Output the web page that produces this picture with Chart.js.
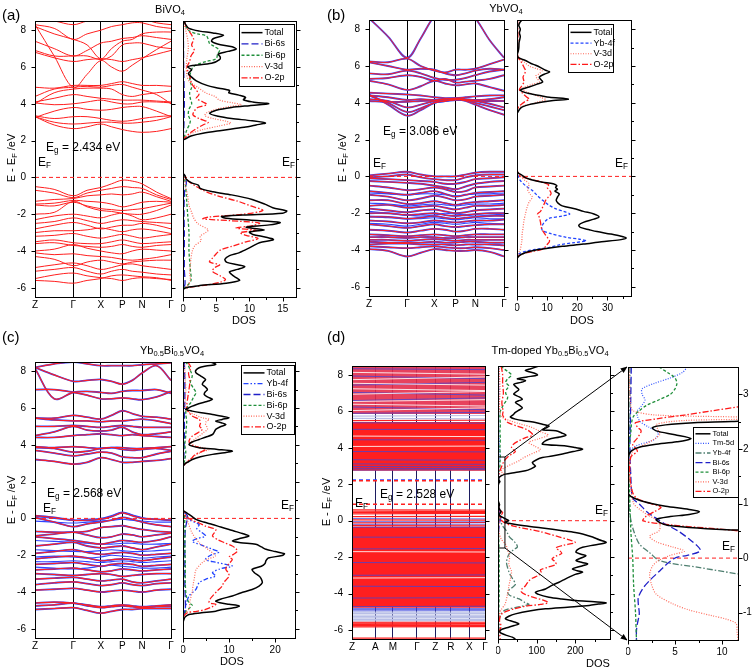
<!DOCTYPE html>
<html>
<head>
<meta charset="utf-8">
<script src="https://cdn.jsdelivr.net/npm/chart.js@4.4.0/dist/chart.umd.min.js"></script>
<style>
body { margin: 0; background: #fff; width: 756px; height: 668px; position: relative; overflow: hidden; font-family: "Liberation Sans", Arial, sans-serif; }
.t { position: absolute; white-space: nowrap; color: #000; line-height: 1; }
.t sub { font-size: 68%; vertical-align: -0.3em; }
canvas { position: absolute; }
svg { position: absolute; left: 0; top: 0; }
</style>
</head>
<body>
<script>
// ---- k-path and energy ticks ----
const kGrid = [0, 0.141, 0.282, 0.383, 0.484, 0.563, 0.642, 0.715, 0.787, 0.894, 1];
const kTicks = [0, 0.282, 0.484, 0.642, 0.787, 1];
const kNames = ["Z", "Γ", "X", "P", "N", "Γ"];
const kTicksD = [0, 0.175, 0.308, 0.488, 0.627, 0.743, 0.882, 1];
const kNamesD = ["Z", "A", "M", "Γ", "Z", "R", "X", "Γ"];
const eMajor = [-6, -4, -2, 0, 2, 4, 6, 8];
const eMinor = [-5, -3, -1, 1, 3, 5, 7];

// ---- (a) BiVO4 bands, values at kGrid ----
const aBands = [
  [3.3, 2.85, 2.65, 2.75, 2.9, 2.75, 2.6, 2.5, 2.45, 2.5, 2.65],
  [3.3, 3.0, 2.9, 2.95, 3.0, 3.0, 2.95, 2.95, 3.0, 3.1, 3.3],
  [3.35, 3.2, 3.3, 3.3, 3.2, 3.1, 3.05, 3.1, 3.2, 3.3, 3.35],
  [3.25, 3.6, 3.8, 3.7, 3.65, 3.7, 3.8, 3.85, 3.85, 3.6, 3.3],
  [4.05, 3.95, 4.0, 4.1, 4.2, 4.1, 4.0, 4.0, 4.1, 4.1, 4.05],
  [4.1, 4.3, 4.5, 4.4, 4.3, 4.25, 4.2, 4.2, 4.2, 4.15, 4.1],
  [4.0, 4.6, 4.8, 4.85, 4.85, 4.8, 4.5, 4.4, 4.5, 4.6, 4.7],
  [4.4, 4.8, 4.9, 4.95, 4.9, 5.0, 5.05, 4.9, 4.75, 4.5, 4.0],
  [4.9, 4.85, 5.0, 5.0, 5.0, 5.1, 5.2, 5.1, 5.0, 5.0, 4.95],
  [8.3, 6.6, 4.88, 5.6, 6.35, 6.0, 5.77, 6.1, 6.45, 6.95, 7.4],
  [6.8, 6.5, 6.3, 6.4, 6.45, 6.4, 6.3, 6.4, 6.5, 6.7, 6.9],
  [6.9, 6.6, 6.6, 6.6, 6.4, 6.6, 7.2, 7.3, 7.3, 7.1, 7.0],
  [7.4, 7.0, 6.6, 6.9, 7.3, 7.4, 7.55, 7.6, 7.7, 7.6, 7.5],
  [8.2, 7.8, 7.5, 7.2, 6.45, 7.0, 7.4, 7.5, 7.8, 7.9, 7.9],
  [8.3, 8.1, 7.5, 7.8, 8.0, 8.2, 8.3, 8.4, 8.4, 8.2, 8.1],
  [8.6, 8.5, 8.3, 8.5, 8.6, 8.6, 8.6, 8.6, 8.6, 8.4, 8.3],
  [-0.5, -0.65, -1.0, -0.7, -0.55, -0.35, -0.15, -0.2, -0.35, -0.8, -1.15],
  [-0.7, -0.85, -1.1, -0.85, -0.7, -0.6, -0.5, -0.55, -0.6, -0.95, -1.2],
  [-1.3, -1.2, -1.15, -1.0, -0.95, -0.9, -0.95, -0.9, -0.8, -1.05, -1.3],
  [-1.45, -1.4, -1.25, -1.3, -1.35, -1.45, -1.6, -1.5, -1.35, -1.3, -1.35],
  [-1.5, -1.55, -1.35, -1.55, -1.7, -1.75, -1.8, -1.75, -1.7, -1.55, -1.4],
  [-2.0, -1.9, -1.3, -1.6, -1.8, -1.85, -1.95, -2.0, -2.0, -1.8, -1.5],
  [-2.3, -2.1, -2.0, -2.1, -2.2, -2.05, -1.95, -2.1, -2.3, -2.2, -2.0],
  [-2.5, -2.4, -2.2, -2.35, -2.5, -2.4, -2.3, -2.35, -2.4, -2.45, -2.5],
  [-2.8, -2.6, -2.45, -2.6, -2.8, -2.7, -2.6, -2.6, -2.5, -2.6, -2.8],
  [-3.0, -2.9, -2.9, -2.85, -2.75, -2.85, -2.95, -2.85, -2.8, -2.9, -3.05],
  [-3.2, -3.15, -3.05, -3.2, -3.3, -3.2, -3.1, -3.2, -3.3, -3.2, -3.1],
  [-3.5, -3.4, -3.55, -3.6, -3.6, -3.5, -3.4, -3.5, -3.6, -3.55, -3.5],
  [-3.6, -3.55, -3.7, -3.75, -3.8, -3.75, -3.65, -3.75, -3.8, -3.7, -3.65],
  [-4.0, -3.9, -3.65, -3.85, -4.0, -4.1, -4.15, -4.0, -3.9, -3.95, -4.0],
  [-4.1, -4.2, -4.15, -4.25, -4.3, -4.35, -4.45, -4.5, -4.45, -4.35, -4.2],
  [-4.3, -4.45, -4.8, -4.6, -4.5, -4.6, -4.7, -4.6, -4.55, -4.5, -4.5],
  [-4.9, -4.75, -4.65, -4.8, -5.0, -4.9, -4.75, -4.7, -4.8, -4.9, -5.0],
  [-5.1, -5.0, -4.9, -5.1, -5.25, -5.1, -5.0, -5.1, -5.15, -5.25, -5.3],
  [-5.5, -5.3, -5.2, -5.35, -5.45, -5.5, -5.6, -5.5, -5.45, -5.5, -5.55],
  [-5.6, -5.65, -5.75, -5.6, -5.5, -5.35, -5.3, -5.35, -5.4, -5.45, -5.6]
];

// ---- (b) YbVO4 bands ----
const bBands = [
  [8.6, 7.6, 6.45, 7.5, 8.7, 9, 9, 9, 8.6, 7.4, 6.45],
  [6.25, 6.2, 6.4, 6.0, 5.75, 5.65, 5.8, 5.8, 5.85, 6.1, 6.35],
  [6.2, 6.0, 5.8, 5.85, 5.8, 5.6, 5.5, 5.6, 5.75, 5.85, 5.8],
  [5.6, 5.55, 5.75, 5.6, 5.35, 5.25, 5.25, 5.35, 5.5, 5.7, 5.8],
  [5.3, 5.35, 5.5, 5.4, 5.2, 5.3, 5.1, 5.15, 5.2, 5.3, 5.5],
  [5.2, 5.0, 4.7, 4.9, 5.2, 5.05, 4.95, 5.0, 5.05, 4.85, 4.65],
  [4.55, 4.5, 4.45, 4.4, 4.3, 4.25, 4.25, 4.3, 4.35, 4.4, 4.4],
  [4.4, 4.3, 4.15, 4.2, 4.15, 4.2, 4.25, 4.2, 4.15, 4.2, 4.3],
  [4.1, 4.05, 4.05, 4.1, 4.1, 4.1, 4.15, 4.15, 4.1, 4.1, 4.1],
  [4.2, 4.1, 3.75, 3.9, 4.1, 4.2, 4.2, 4.15, 4.1, 3.95, 3.75],
  [4.4, 4.0, 3.5, 3.7, 4.0, 4.1, 4.2, 4.15, 4.0, 3.8, 3.6],
  [4.45, 3.9, 3.3, 3.6, 4.0, 4.1, 4.2, 4.1, 3.9, 3.6, 3.35],
  [0.05, 0.15, 0.25, 0.1, 0.0, 0.0, 0.0, 0.1, 0.2, 0.25, 0.25],
  [-0.05, 0.0, 0.1, -0.05, -0.15, -0.2, -0.2, -0.05, 0.05, 0.1, 0.1],
  [-0.1, -0.15, -0.2, -0.25, -0.3, -0.4, -0.4, -0.3, -0.15, -0.1, -0.05],
  [-0.25, -0.3, -0.35, -0.4, -0.5, -0.6, -0.7, -0.55, -0.4, -0.3, -0.25],
  [-0.5, -0.6, -0.75, -0.7, -0.6, -0.7, -0.85, -0.8, -0.6, -0.55, -0.5],
  [-0.8, -0.9, -1.0, -0.9, -0.8, -0.95, -1.1, -1.0, -0.9, -0.85, -0.8],
  [-1.0, -1.1, -1.3, -1.2, -1.05, -1.15, -1.3, -1.25, -1.1, -1.05, -1.0],
  [-1.3, -1.3, -1.5, -1.45, -1.35, -1.45, -1.55, -1.45, -1.4, -1.35, -1.3],
  [-1.6, -1.55, -1.7, -1.65, -1.6, -1.7, -1.8, -1.7, -1.6, -1.6, -1.55],
  [-1.75, -1.85, -1.95, -1.85, -1.8, -1.9, -2.0, -1.95, -1.85, -1.8, -1.75],
  [-2.0, -2.0, -2.1, -2.05, -2.0, -2.1, -2.15, -2.1, -2.05, -2.0, -2.0],
  [-2.2, -2.2, -2.3, -2.25, -2.15, -2.25, -2.3, -2.25, -2.2, -2.15, -2.15],
  [-2.4, -2.45, -2.55, -2.5, -2.4, -2.45, -2.5, -2.45, -2.4, -2.4, -2.35],
  [-2.6, -2.7, -2.8, -2.7, -2.6, -2.7, -2.75, -2.7, -2.65, -2.6, -2.6],
  [-2.9, -2.95, -3.05, -2.95, -2.85, -2.9, -3.0, -2.95, -2.85, -2.85, -2.9],
  [-3.15, -3.2, -3.25, -3.2, -3.15, -3.2, -3.25, -3.2, -3.15, -3.15, -3.15],
  [-3.3, -3.3, -3.35, -3.3, -3.3, -3.35, -3.35, -3.3, -3.3, -3.3, -3.3],
  [-3.45, -3.45, -3.5, -3.45, -3.4, -3.45, -3.5, -3.45, -3.45, -3.45, -3.45],
  [-3.55, -3.6, -3.6, -3.6, -3.55, -3.6, -3.6, -3.55, -3.55, -3.6, -3.6],
  [-3.7, -3.65, -3.65, -3.7, -3.7, -3.7, -3.75, -3.7, -3.7, -3.7, -3.75],
  [-3.8, -3.85, -3.9, -3.85, -3.8, -3.85, -3.9, -3.9, -3.85, -3.9, -4.0],
  [-3.95, -4.05, -4.35, -4.15, -3.95, -4.0, -4.05, -4.05, -4.0, -4.1, -4.35]
];
const bBlueOnly = [
  [-0.9, -0.95, -1.0, -0.95, -0.95, -1.0, -1.05, -1.0, -0.95, -0.95, -0.9],
  [-1.45, -1.5, -1.6, -1.55, -1.5, -1.55, -1.6, -1.55, -1.5, -1.5, -1.45],
  [-1.9, -2.0, -2.1, -2.15, -2.1, -2.0, -2.05, -2.1, -2.15, -2.1, -2.05],
  [-2.15, -2.25, -2.3, -2.3, -2.25, -2.3, -2.35, -2.3, -2.25, -2.3, -2.3],
  [-2.55, -2.6, -2.7, -2.6, -2.5, -2.55, -2.6, -2.55, -2.5, -2.55, -2.6]
];

// ---- (c) Yb0.5Bi0.5VO4 bands ----
const cBands = [
  [8.2, 8.4, 8.5, 8.4, 8.3, 8.3, 8.3, 8.3, 8.35, 8.4, 8.45],
  [8.2, 7.8, 7.45, 7.5, 7.55, 7.45, 7.3, 7.5, 7.9, 8.3, 7.5],
  [8.15, 6.5, 6.85, 6.9, 6.85, 6.8, 6.9, 6.95, 6.95, 7.0, 6.8],
  [7.0, 7.0, 6.85, 6.7, 6.5, 6.5, 6.55, 6.5, 6.45, 6.6, 6.9],
  [5.45, 5.45, 5.6, 5.5, 5.4, 5.6, 5.85, 5.7, 5.55, 5.5, 5.4],
  [5.45, 5.35, 5.3, 5.3, 5.25, 5.3, 5.3, 5.35, 5.4, 5.3, 5.15],
  [5.0, 5.0, 5.05, 5.0, 4.95, 5.0, 5.05, 5.0, 4.95, 4.95, 4.95],
  [4.5, 4.7, 5.0, 4.8, 4.75, 4.8, 4.95, 4.7, 4.55, 4.6, 4.7],
  [4.4, 4.4, 4.5, 4.55, 4.6, 4.55, 4.5, 4.55, 4.5, 4.45, 4.4],
  [3.9, 3.85, 3.9, 3.85, 3.8, 3.85, 3.85, 3.8, 3.8, 3.85, 3.9],
  [3.85, 3.8, 3.6, 3.65, 3.8, 3.85, 3.75, 3.7, 3.75, 3.8, 3.7],
  [3.7, 3.55, 3.4, 3.5, 3.6, 3.55, 3.35, 3.3, 3.3, 3.5, 3.65],
  [3.2, 3.1, 2.95, 3.05, 3.3, 3.2, 3.05, 3.05, 3.1, 3.15, 3.25],
  [0.15, 0.05, -0.1, -0.1, -0.05, 0.1, 0.3, 0.15, 0.0, -0.05, -0.1],
  [0.05, -0.2, -0.45, -0.3, -0.2, -0.1, 0.05, -0.05, -0.2, -0.35, -0.45],
  [-0.7, -0.75, -0.75, -0.7, -0.5, -0.45, -0.4, -0.5, -0.6, -0.7, -0.75],
  [-0.95, -0.85, -0.75, -0.9, -1.05, -1.0, -0.85, -0.9, -1.0, -0.9, -0.8],
  [-1.0, -1.1, -1.2, -1.3, -1.4, -1.3, -1.2, -1.25, -1.3, -1.2, -1.0],
  [-1.5, -1.4, -1.3, -1.5, -1.6, -1.55, -1.5, -1.6, -1.7, -1.55, -1.4],
  [-1.9, -1.8, -1.7, -1.85, -1.95, -1.9, -1.85, -1.9, -2.0, -1.95, -1.9],
  [-2.2, -2.1, -2.05, -2.15, -2.3, -2.25, -2.2, -2.25, -2.3, -2.2, -2.1],
  [-2.5, -2.45, -2.4, -2.5, -2.6, -2.5, -2.45, -2.5, -2.6, -2.55, -2.5],
  [-2.8, -2.75, -2.7, -2.8, -2.9, -2.85, -2.75, -2.8, -2.85, -2.8, -2.75],
  [-3.0, -3.05, -3.1, -3.05, -3.0, -3.05, -3.15, -3.1, -3.05, -3.0, -3.0],
  [-3.3, -3.25, -3.2, -3.3, -3.4, -3.35, -3.3, -3.45, -3.5, -3.4, -3.3],
  [-3.6, -3.5, -3.45, -3.55, -3.65, -3.6, -3.5, -3.6, -3.65, -3.55, -3.5],
  [-3.9, -3.85, -3.8, -3.9, -4.0, -3.95, -3.9, -3.95, -4.0, -3.9, -3.85],
  [-4.6, -4.55, -4.6, -4.7, -4.8, -4.75, -4.7, -4.75, -4.8, -4.75, -4.7],
  [-4.75, -4.7, -4.6, -4.75, -4.85, -4.8, -4.75, -4.8, -4.85, -4.8, -4.8],
  [-4.95, -4.9, -4.85, -5.0, -5.15, -5.05, -4.95, -4.95, -4.9, -4.9, -4.9]
];
const cBlueOnly = [
  [0.1, 0.0, -0.1, -0.05, 0.0, 0.15, 0.35, 0.2, 0.05, -0.05, -0.1],
  [-0.15, -0.2, -0.25, -0.2, -0.15, -0.1, -0.05, -0.1, -0.15, -0.2, -0.2],
  [-1.2, -1.25, -1.3, -1.35, -1.4, -1.4, -1.35, -1.35, -1.4, -1.4, -1.35],
  [-1.7, -1.75, -1.8, -1.8, -1.75, -1.7, -1.75, -1.8, -1.8, -1.75, -1.7],
  [-2.1, -2.05, -2.1, -2.15, -2.1, -2.0, -2.05, -2.1, -2.15, -2.1, -2.05],
  [-2.35, -2.35, -2.3, -2.35, -2.4, -2.35, -2.3, -2.35, -2.4, -2.35, -2.3],
  [-2.65, -2.7, -2.75, -2.7, -2.6, -2.55, -2.6, -2.65, -2.7, -2.7, -2.65]
];

// ---- (d) Tm-doped supercell: energy windows and single levels [E at Z, E at Γ] ----
const dDense = [[2.75, 5.42], [-4.78, -0.32]];
const dUpper = [5.86, 8.5];
const dRedLines = [[0.6, 0.58], [0.52, 0.5], [0.45, 0.46], [0.38, 0.4], [0.22, 0.24], [0.05, 0.03], [-0.12, -0.1], [-0.26, -0.25],
  [5.5, 5.52], [-5.58, -5.58], [-5.63, -5.64], [-5.7, -5.69], [-5.76, -5.77], [-5.83, -5.82], [-6.45, -6.45]];
const dBlueLines = [[0.12, 0.1], [-0.05, -0.06], [-0.2, -0.19], [-0.36, -0.35], [-0.9, -0.92], [-1.55, -1.53], [-2.3, -2.32],
  [-3.0, -2.98], [-3.6, -3.62], [-4.25, -4.23], [-4.72, -4.7], [-4.82, -4.83], [-4.88, -4.88], [-4.95, -4.94],
  [2.78, 2.8], [2.88, 2.86], [2.98, 2.96], [3.12, 3.1], [3.35, 3.32], [3.8, 3.78], [4.45, 4.42], [5.02, 5.0], [5.38, 5.36],
  [5.9, 5.95], [6.25, 6.1], [6.6, 6.75], [7.05, 6.9], [7.45, 7.6], [7.95, 7.8], [8.35, 8.3]];
const dPaleLines = [[-5.02, -5.02], [-5.1, -5.1], [-5.18, -5.19], [-5.26, -5.26], [-5.34, -5.33], [-5.42, -5.42], [-5.5, -5.49], [5.62, 5.6], [5.75, 5.78]];
const dWhiteLines = [[6.05, 6.2], [6.4, 6.3], [6.55, 6.65], [6.95, 7.1], [7.25, 7.15], [7.55, 7.45], [7.75, 7.9], [8.15, 8.05],
  [4.08, 4.1], [4.65, 4.62], [-1.7, -1.72], [-3.15, -3.13]];
const dFermiBlue = [2.24];
const dFermiRed = [2.19, 0.9];

// ---- DOS curves, [E (eV), DOS] ----
const aTotal = [[8.5,0.2],[8.3,0.4],[8.1,0.9],[7.95,2.5],[7.85,4.5],[7.72,6.1],[7.55,4.6],[7.4,4.3],[7.25,5.2],[7.1,7.4],[6.98,8.0],[6.85,6.8],[6.7,5.3],[6.55,5.6],[6.4,5.5],[6.2,4.3],[6.08,1.4],[6.0,0.7],[5.85,1.3],[5.65,0.8],[5.45,1.3],[5.25,2.0],[5.0,3.6],[4.85,5.4],[4.72,7.0],[4.6,6.9],[4.47,8.4],[4.35,9.4],[4.22,9.1],[4.1,10.5],[4.0,12.9],[3.9,10.0],[3.8,7.3],[3.65,5.0],[3.48,4.0],[3.32,5.3],[3.2,7.3],[3.08,10.4],[2.96,12.4],[2.85,11.0],[2.72,9.2],[2.55,5.8],[2.4,3.0],[2.25,1.2],[2.1,0.4],[2.0,0],[0.25,0],[0.1,0.3],[-0.1,0.5],[-0.3,1.3],[-0.42,2.3],[-0.6,2.6],[-0.78,4.5],[-0.95,7.3],[-1.2,10.4],[-1.45,12.3],[-1.65,13.5],[-1.82,15.6],[-1.95,15.0],[-2.05,9.0],[-2.13,5.8],[-2.22,6.5],[-2.32,10.0],[-2.45,14.6],[-2.58,13.0],[-2.7,9.5],[-2.85,12.2],[-2.97,10.0],[-3.1,10.5],[-3.25,12.5],[-3.38,13.6],[-3.55,11.5],[-3.75,10.4],[-3.95,9.3],[-4.1,8.4],[-4.25,7.0],[-4.45,6.3],[-4.62,6.6],[-4.75,8.2],[-4.85,9.3],[-5.0,8.2],[-5.13,7.0],[-5.3,7.4],[-5.45,8.0],[-5.6,8.5],[-5.75,6.5],[-5.88,2.5],[-5.98,0.6],[-6.1,0],[-6.5,0]];
const aBi6s = [[8.5,0.05],[6,0.1],[4,0.2],[2.5,0.1],[2.05,0],[0.2,0],[0.05,0.3],[-0.3,0.5],[-0.6,0.3],[-1,0.2],[-2,0.15],[-3,0.2],[-4,0.2],[-5,0.2],[-5.8,0.3],[-6.1,0],[-6.5,0]];
const aBi6p = [[8.5,0.1],[8.2,0.4],[7.95,1.0],[7.8,2.2],[7.7,3.5],[7.5,3.8],[7.27,4.0],[7.1,4.8],[6.9,5.5],[6.7,5.2],[6.45,5.0],[6.3,3.5],[6.15,2.2],[6.0,1.5],[5.75,1.2],[5.5,1.0],[5.2,1.1],[4.9,1.3],[4.6,1.0],[4.3,1.1],[4.0,1.3],[3.7,0.9],[3.4,0.8],[3.1,1.1],[2.9,1.0],[2.6,0.6],[2.3,0.3],[2.05,0],[0.2,0],[0,0.2],[-0.5,0.4],[-1.0,0.5],[-2.0,0.7],[-3.0,0.9],[-4.0,0.9],[-5.0,1.1],[-5.6,1.2],[-5.9,0.6],[-6.1,0],[-6.5,0]];
const aV3d = [[8.5,0.1],[8.0,0.4],[7.5,0.7],[7.0,0.8],[6.5,0.6],[6.0,0.5],[5.5,0.6],[5.2,1.0],[4.9,2.2],[4.6,3.4],[4.4,4.8],[4.2,5.5],[4.05,7.5],[3.95,8.8],[3.85,7.0],[3.7,5.0],[3.5,3.5],[3.35,3.3],[3.2,4.5],[3.05,6.5],[2.95,7.2],[2.8,5.5],[2.6,3.0],[2.4,1.3],[2.2,0.4],[2.05,0],[0.2,0],[0,0.2],[-0.5,0.4],[-1.0,0.7],[-1.5,0.9],[-1.9,1.3],[-2.2,1.6],[-2.5,2.2],[-2.85,3.8],[-3.0,3.4],[-3.2,2.6],[-3.45,2.7],[-3.7,1.8],[-4.0,1.4],[-4.4,1.2],[-4.8,1.1],[-5.2,1.0],[-5.6,1.1],[-5.9,0.6],[-6.1,0],[-6.5,0]];
const aO2p = [[8.5,0.2],[8.1,0.6],[7.8,1.2],[7.5,1.6],[7.2,1.3],[6.9,1.7],[6.6,1.2],[6.3,1.0],[6.0,0.6],[5.7,0.8],[5.4,1.1],[5.1,1.3],[4.8,1.9],[4.5,2.4],[4.3,2.0],[4.1,3.0],[3.95,3.6],[3.8,2.2],[3.6,1.7],[3.4,1.5],[3.2,2.4],[3.0,3.8],[2.85,3.0],[2.65,2.0],[2.4,1.0],[2.2,0.4],[2.05,0],[0.25,0],[0.05,0.3],[-0.2,0.8],[-0.45,1.8],[-0.7,3.0],[-1.0,5.2],[-1.3,8.3],[-1.55,10.2],[-1.8,12.0],[-2.0,9.0],[-2.15,4.0],[-2.25,3.0],[-2.35,7.0],[-2.48,11.5],[-2.62,10.5],[-2.75,8.0],[-2.88,11.0],[-3.0,8.6],[-3.15,9.5],[-3.32,11.3],[-3.5,9.5],[-3.75,7.3],[-3.95,5.6],[-4.15,5.0],[-4.4,4.4],[-4.6,4.0],[-4.75,5.5],[-4.9,4.8],[-5.1,4.4],[-5.35,5.6],[-5.55,6.4],[-5.7,5.6],[-5.85,3.5],[-5.98,0.8],[-6.1,0],[-6.5,0]];

const bTotal = [[8.5,1.7],[8.35,0.9],[8.2,0.6],[8.0,1.1],[7.8,0.8],[7.6,1.1],[7.3,0.7],[7.0,0.6],[6.8,0.4],[6.6,0.1],[6.45,0.5],[6.3,2.8],[6.15,4.5],[6.04,6.2],[5.9,8.0],[5.77,9.5],[5.67,10.8],[5.55,9.0],[5.4,7.4],[5.25,8.0],[5.13,8.5],[5.0,6.5],[4.86,4.0],[4.75,1.8],[4.68,1.1],[4.58,2.3],[4.5,4.0],[4.38,8.0],[4.3,10.8],[4.2,17.0],[4.12,12.0],[4.04,8.5],[3.9,4.0],[3.78,1.8],[3.68,1.0],[3.5,0.3],[3.4,0],[0.35,0],[0.2,0.3],[0.08,1.5],[-0.05,2.6],[-0.14,4.0],[-0.25,6.5],[-0.32,8.5],[-0.4,12.0],[-0.5,13.2],[-0.6,12.8],[-0.7,13.4],[-0.8,12.6],[-0.95,14.0],[-1.1,13.5],[-1.3,13.0],[-1.45,13.6],[-1.6,15.0],[-1.77,19.5],[-1.9,22.0],[-2.04,25.5],[-2.2,27.2],[-2.32,25.5],[-2.5,22.0],[-2.65,20.5],[-2.77,21.0],[-2.9,24.0],[-3.0,26.5],[-3.13,31.0],[-3.25,34.5],[-3.35,36.2],[-3.45,34.0],[-3.55,28.0],[-3.68,22.0],[-3.8,15.0],[-3.95,8.5],[-4.08,4.0],[-4.22,1.7],[-4.35,0.5],[-4.5,0],[-6.5,0]];
const bYb4f = [[8.5,0.05],[4,0.05],[0.3,0],[0.1,0.2],[-0.2,1.0],[-0.5,2.8],[-0.77,5.1],[-1.0,6.5],[-1.3,8.5],[-1.55,10.5],[-1.77,13.0],[-1.9,15.5],[-2.04,17.5],[-2.15,15.0],[-2.28,10.5],[-2.4,9.6],[-2.6,8.6],[-2.8,8.2],[-2.95,8.5],[-3.1,11.0],[-3.31,16.4],[-3.42,21.0],[-3.5,23.0],[-3.6,19.0],[-3.72,14.0],[-3.86,10.8],[-3.97,6.0],[-4.08,2.8],[-4.2,0.8],[-4.3,0.1],[-6.5,0]];
const bV3d = [[8.5,0.1],[7.5,0.2],[6.6,0.1],[6.4,0.8],[6.2,2.5],[6.0,4.0],[5.85,6.5],[5.75,8.3],[5.6,7.5],[5.45,6.2],[5.3,6.8],[5.13,7.4],[5.0,5.0],[4.85,2.5],[4.75,1.5],[4.6,3.0],[4.45,5.5],[4.3,7.8],[4.17,9.6],[4.05,7.0],[3.95,5.1],[3.85,2.5],[3.75,1.0],[3.6,0.2],[3.4,0],[0.35,0],[0.1,0.6],[-0.2,2.5],[-0.4,4.0],[-0.7,3.5],[-1.0,4.5],[-1.13,5.1],[-1.4,4.0],[-1.7,3.3],[-2.04,2.8],[-2.4,2.3],[-2.8,2.0],[-3.13,1.7],[-3.5,1.6],[-3.95,1.1],[-4.2,0.4],[-4.4,0],[-6.5,0]];
const bO2p = [[8.5,0.2],[7.5,0.3],[6.6,0.2],[6.4,0.6],[6.3,1.1],[6.1,1.8],[5.9,2.4],[5.77,2.8],[5.6,2.6],[5.4,2.0],[5.13,2.3],[4.9,1.5],[4.7,0.8],[4.5,2.0],[4.3,3.3],[4.2,4.0],[4.05,2.5],[3.95,1.7],[3.8,0.6],[3.6,0.1],[3.4,0],[0.35,0],[0.2,0.4],[0.05,1.0],[-0.1,3.0],[-0.2,5.5],[-0.32,8.5],[-0.45,10.5],[-0.6,10.0],[-0.8,11.0],[-0.95,11.3],[-1.1,10.5],[-1.3,9.5],[-1.5,9.0],[-1.68,8.5],[-1.9,7.8],[-2.05,6.8],[-2.22,7.4],[-2.5,7.8],[-2.75,8.0],[-2.95,8.5],[-3.2,9.5],[-3.5,10.8],[-3.7,10.0],[-3.95,8.5],[-4.1,4.5],[-4.22,1.7],[-4.35,0.3],[-4.5,0],[-6.5,0]];

const cTotal = [[8.5,6.0],[8.37,7.1],[8.28,5.0],[8.19,3.5],[8.05,2.8],[7.92,2.8],[7.75,3.8],[7.55,4.9],[7.4,4.4],[7.28,4.2],[7.15,4.8],[7.0,5.3],[6.87,4.8],[6.74,4.6],[6.6,5.3],[6.47,6.4],[6.38,5.5],[6.29,4.2],[6.18,2.8],[6.1,2.0],[6.0,1.2],[5.92,0.6],[5.83,2.0],[5.74,4.0],[5.65,6.4],[5.55,8.5],[5.47,10.0],[5.38,8.5],[5.29,7.1],[5.2,8.3],[5.1,9.3],[4.97,8.0],[4.84,7.1],[4.7,6.8],[4.56,6.4],[4.42,5.0],[4.29,3.5],[4.15,2.0],[4.02,1.3],[3.93,2.0],[3.84,3.5],[3.75,7.5],[3.66,10.7],[3.57,9.0],[3.48,6.4],[3.35,3.8],[3.2,2.0],[3.08,1.2],[3.0,0.6],[2.9,0.2],[2.84,0],[0.45,0],[0.4,0.2],[0.3,0.8],[0.22,1.3],[0.1,2.0],[-0.05,2.8],[-0.2,4.5],[-0.33,6.4],[-0.47,8.2],[-0.6,10.0],[-0.72,11.5],[-0.82,12.9],[-0.96,14.3],[-1.08,12.5],[-1.23,10.7],[-1.32,12.5],[-1.41,15.8],[-1.55,17.0],[-1.68,18.0],[-1.8,20.0],[-1.92,22.0],[-2.02,21.5],[-2.15,18.5],[-2.3,18.0],[-2.45,17.8],[-2.6,17.0],[-2.77,15.0],[-2.95,15.5],[-3.13,16.5],[-3.3,17.0],[-3.5,17.2],[-3.68,16.5],[-3.86,15.0],[-4.05,12.5],[-4.22,10.7],[-4.36,8.5],[-4.49,7.1],[-4.58,8.0],[-4.67,10.0],[-4.76,12.2],[-4.86,11.0],[-4.95,8.5],[-5.04,7.1],[-5.13,4.0],[-5.22,1.3],[-5.35,0.5],[-5.5,0.2],[-5.7,0],[-6.5,0]];
const cYb4f = [[8.5,0.1],[6,0.1],[3,0.05],[0.45,0],[0.3,0.3],[0.12,0.6],[-0.1,1.5],[-0.33,3.5],[-0.55,3.0],[-0.75,4.0],[-0.96,4.9],[-1.1,3.0],[-1.25,2.0],[-1.45,4.0],[-1.68,6.4],[-1.83,7.8],[-2.0,6.0],[-2.23,4.9],[-2.38,7.0],[-2.5,9.3],[-2.59,10.7],[-2.75,8.0],[-2.95,6.4],[-3.13,7.1],[-3.3,5.0],[-3.5,3.5],[-3.86,2.8],[-4.22,1.3],[-4.76,0.6],[-5.2,0.2],[-5.5,0],[-6.5,0]];
const cBi6s = [[8.5,0.3],[7.5,0.4],[6.5,0.4],[5.5,0.3],[4.5,0.3],[3.5,0.2],[2.9,0.1],[2.84,0],[0.45,0],[0.3,0.5],[0.1,1.0],[-0.2,0.8],[-0.6,0.5],[-1.5,0.4],[-2.5,0.4],[-3.5,0.4],[-4.5,0.5],[-5.0,0.5],[-5.3,0.1],[-5.5,0],[-6.5,0]];
const cBi6p = [[8.5,0.5],[8.37,1.0],[8.1,1.5],[7.74,2.0],[7.4,1.6],[7.1,2.2],[6.83,2.8],[6.6,2.3],[6.29,1.7],[6.0,0.8],[5.7,0.6],[5.3,0.8],[4.9,0.7],[4.5,0.6],[4.0,0.4],[3.6,0.6],[3.2,0.4],[2.9,0.1],[2.84,0],[0.45,0],[0.2,0.3],[-0.5,0.4],[-1.5,0.4],[-2.5,0.5],[-3.5,0.5],[-4.2,0.7],[-4.58,1.3],[-4.72,2.0],[-4.9,1.3],[-5.1,0.5],[-5.3,0.1],[-5.5,0],[-6.5,0]];
const cV3d = [[8.5,0.2],[8.0,0.4],[7.5,0.5],[7.0,0.6],[6.5,0.5],[6.0,0.4],[5.8,1.0],[5.65,2.5],[5.53,3.5],[5.45,4.5],[5.38,5.7],[5.25,5.0],[5.1,4.9],[4.97,5.2],[4.84,5.3],[4.65,4.4],[4.47,3.5],[4.3,2.5],[4.11,1.7],[3.95,2.5],[3.85,4.0],[3.75,5.7],[3.62,4.2],[3.48,3.0],[3.3,2.0],[3.1,1.0],[2.9,0.2],[2.84,0],[0.45,0],[0.2,0.5],[-0.3,1.2],[-0.8,2.0],[-1.32,3.5],[-1.6,5.0],[-1.9,6.5],[-2.05,7.0],[-2.2,5.5],[-2.4,4.2],[-2.8,2.8],[-3.2,2.5],[-3.6,2.2],[-4.0,2.0],[-4.5,1.5],[-4.9,1.3],[-5.2,0.4],[-5.5,0],[-6.5,0]];
const cO2p = [[8.5,1.0],[8.2,1.7],[7.9,1.2],[7.5,1.5],[7.0,1.3],[6.5,1.0],[6.0,0.8],[5.8,1.2],[5.56,2.0],[5.38,3.5],[5.2,3.8],[5.0,3.6],[4.84,4.2],[4.65,3.2],[4.47,2.0],[4.2,1.3],[4.0,1.8],[3.85,3.5],[3.75,4.9],[3.6,3.8],[3.45,2.5],[3.3,2.0],[3.1,1.0],[2.9,0.2],[2.84,0],[0.45,0],[0.3,0.3],[0.12,0.6],[-0.1,2.0],[-0.25,3.5],[-0.42,4.9],[-0.6,7.1],[-0.78,6.8],[-0.96,6.4],[-1.15,7.5],[-1.32,9.0],[-1.5,10.7],[-1.65,11.5],[-1.78,11.8],[-1.95,11.0],[-2.1,10.0],[-2.23,10.7],[-2.45,10.0],[-2.6,9.5],[-2.77,9.3],[-2.95,9.8],[-3.13,10.0],[-3.35,9.3],[-3.5,8.8],[-3.68,8.5],[-3.95,7.4],[-4.22,6.4],[-4.42,5.8],[-4.58,5.7],[-4.67,7.1],[-4.78,6.5],[-4.95,4.9],[-5.05,3.0],[-5.13,0.9],[-5.3,0.2],[-5.5,0],[-6.5,0]];

const dTotal = [[8.5,106],[8.35,85],[8.25,71],[8.1,95],[8.0,102],[7.9,75],[7.8,50],[7.7,71],[7.6,60],[7.5,41],[7.35,47],[7.2,54],[7.05,45],[6.95,41],[6.8,55],[6.67,63],[6.58,52],[6.5,45],[6.35,55],[6.2,63],[6.05,52],[5.95,45],[5.8,38],[5.7,32],[5.58,45],[5.48,70],[5.4,97],[5.3,115],[5.2,132],[5.1,125],[5.0,115],[4.94,150],[4.82,165],[4.7,176],[4.6,160],[4.48,132],[4.35,120],[4.2,115],[4.11,176],[4.02,200],[3.93,219],[3.8,195],[3.66,167],[3.55,140],[3.47,115],[3.35,100],[3.2,89],[3.1,92],[3.0,97],[2.85,85],[2.74,71],[2.65,45],[2.56,19],[2.46,8],[2.38,3],[2.25,2],[2.15,5],[2.05,2],[1.9,0],[1.15,0],[1.0,2],[0.88,4],[0.75,2],[0.6,5],[0.5,8],[0.4,5],[0.3,3],[0.18,12],[0.1,20],[0.0,28],[-0.08,18],[-0.17,35],[-0.27,63],[-0.4,115],[-0.55,167],[-0.65,200],[-0.73,219],[-0.9,245],[-1.05,262],[-1.2,280],[-1.33,250],[-1.46,219],[-1.6,205],[-1.74,202],[-1.84,215],[-1.92,228],[-2.05,215],[-2.19,202],[-2.3,218],[-2.38,232],[-2.5,215],[-2.65,193],[-2.75,205],[-2.83,219],[-2.95,200],[-3.1,184],[-3.25,170],[-3.38,158],[-3.55,140],[-3.75,123],[-3.93,97],[-4.05,105],[-4.2,132],[-4.3,165],[-4.39,202],[-4.46,250],[-4.52,280],[-4.58,260],[-4.66,236],[-4.75,180],[-4.84,123],[-4.95,85],[-5.12,45],[-5.25,28],[-5.39,19],[-5.5,32],[-5.58,45],[-5.67,54],[-5.76,42],[-5.85,28],[-5.95,12],[-6.03,6],[-6.12,5],[-6.2,10],[-6.3,22],[-6.4,37],[-6.5,45]];
const dTm5d = [[8.5,2],[7,3],[5,2],[3.5,5],[3,2],[2.3,3],[2,0.2],[1,0.1],[0,0.2],[-2,0.3],[-6.5,0.3]];
const dYb4f = [[8.5,1],[6,1],[3,1],[1,0.5],[0.5,1],[0.2,2],[0.0,5],[-0.2,10],[-0.35,14],[-0.5,20],[-0.7,25],[-0.9,30],[-1.1,40],[-1.3,48],[-1.45,50],[-1.6,40],[-1.8,30],[-2.0,25],[-2.3,22],[-2.6,25],[-2.9,30],[-3.2,38],[-3.5,45],[-3.7,35],[-3.9,25],[-4.1,30],[-4.3,55],[-4.5,70],[-4.6,80],[-4.75,50],[-4.9,20],[-5.1,8],[-5.4,4],[-5.8,3],[-6.2,2],[-6.5,2]];
const dBi6s = [[8.5,1],[4,1],[2,0.5],[1,0.5],[0.5,4],[0.13,7],[0,5],[-0.5,2],[-1,1],[-2,1],[-4,1],[-6,1],[-6.5,1]];
const dBi6p = [[8.5,8],[8.35,15],[8.2,25],[8.0,35],[7.8,25],[7.6,20],[7.4,28],[7.2,22],[7.0,20],[6.8,25],[6.6,22],[6.4,15],[6.2,10],[6.0,6],[5.7,5],[5.3,6],[4.9,5],[4.5,6],[4.0,5],[3.5,6],[3.2,5],[3.0,5],[2.8,3],[2.6,1],[2.3,0.3],[1.0,0.2],[0,0.5],[-0.5,1],[-1.0,2],[-2.0,3],[-3.0,3],[-4.0,3],[-5.0,2],[-5.5,1],[-6.0,1],[-6.5,1]];
const dV3d = [[8.5,3],[8.0,4],[7.5,5],[7.0,5],[6.5,4],[6.0,5],[5.7,10],[5.5,30],[5.3,60],[5.15,85],[5.0,100],[4.85,115],[4.7,130],[4.5,105],[4.3,80],[4.1,95],[3.9,110],[3.75,95],[3.6,80],[3.45,65],[3.3,55],[3.15,40],[3.0,25],[2.85,12],[2.7,8],[2.6,15],[2.5,8],[2.3,2],[2.0,0.5],[1.2,0.5],[0.7,3],[0.3,3],[0.13,6],[0,4],[-0.5,2],[-1.0,8],[-1.3,20],[-1.6,25],[-2.0,30],[-2.4,28],[-2.8,35],[-3.2,32],[-3.6,28],[-4.0,25],[-4.3,22],[-4.6,18],[-4.9,8],[-5.2,3],[-5.6,2],[-6.0,1],[-6.5,1]];
const dO2p = [[8.5,8],[8.3,10],[8.0,12],[7.5,12],[7.0,14],[6.5,10],[6.0,13],[5.8,12],[5.6,18],[5.4,25],[5.2,50],[5.0,75],[4.85,85],[4.7,90],[4.55,70],[4.4,55],[4.2,40],[4.0,35],[3.8,45],[3.65,35],[3.5,25],[3.25,15],[3.0,10],[2.8,6],[2.6,3],[2.4,0.5],[2.2,0.5],[1.9,0],[1.1,0],[0.93,1.5],[0.8,1],[0.6,3],[0.45,12],[0.3,8],[0.15,6],[0.0,10],[-0.15,20],[-0.3,40],[-0.45,75],[-0.6,110],[-0.75,135],[-0.9,160],[-1.05,185],[-1.2,200],[-1.35,170],[-1.5,150],[-1.65,160],[-1.8,165],[-1.95,150],[-2.1,140],[-2.25,148],[-2.4,150],[-2.55,130],[-2.7,110],[-2.85,112],[-3.0,105],[-3.15,90],[-3.3,80],[-3.45,75],[-3.6,70],[-3.75,62],[-3.9,60],[-4.05,70],[-4.2,90],[-4.35,115],[-4.5,130],[-4.6,110],[-4.7,70],[-4.85,40],[-5.0,20],[-5.15,8],[-5.3,5],[-5.5,4],[-5.8,8],[-6.1,3],[-6.3,5],[-6.5,6]];

// zoomed window shown in the inset (E range, DOS extent of the box)
const insetE = [-1.5, 3.5];
const insetBoxDos = 18;
const iTotal = [[3.5,97],[3.2,89],[3.0,97],[2.75,71],[2.6,30],[2.53,14],[2.5,11],[2.48,7],[2.44,4],[2.39,2.6],[2.33,3.0],[2.26,5.0],[2.19,6.7],[2.13,5.2],[2.08,2.8],[2.03,1.2],[1.97,0.4],[1.9,0.1],[1.8,0],[1.2,0],[1.13,0.3],[1.06,1.2],[1.0,2.5],[0.95,4.0],[0.89,6.5],[0.85,7.6],[0.8,6.5],[0.76,4.5],[0.71,3.0],[0.65,3.4],[0.6,4.2],[0.56,6.5],[0.52,10.5],[0.5,14],[0.3,20],[0,28],[-0.5,160],[-1.5,220]];
const iTm5d = [[3.5,6.3],[3.4,5.8],[3.3,4.5],[3.2,2.8],[3.1,1.5],[3.0,1.5],[2.9,1.8],[2.8,1.5],[2.7,1.0],[2.6,1.0],[2.5,1.3],[2.4,2.2],[2.3,3.2],[2.2,3.0],[2.15,2.5],[2.05,0.8],[1.95,0.2],[1.8,0.05],[1.0,0.05],[0,0.05],[-1.5,0.05]];
const iYb4f = [[3.5,0.2],[2.5,0.2],[2.0,0.1],[1.0,0.1],[0.7,0.3],[0.5,0.6],[0.26,1.2],[0.1,2.3],[-0.05,3.4],[-0.17,7.5],[-0.29,11.7],[-0.35,14],[-0.5,18],[-1.0,40],[-1.5,50]];
const iBi6s = [[3.5,0.35],[3.0,0.3],[2.5,0.25],[2.0,0.2],[1.5,0.3],[1.1,0.5],[0.99,1.2],[0.85,2.0],[0.75,2.8],[0.62,4.0],[0.5,5.3],[0.35,6.5],[0.2,7.5],[0.13,7.7],[0.05,6.3],[0.01,5.1],[-0.1,4.2],[-0.23,3.4],[-0.41,2.3],[-0.55,1.6],[-0.72,1.1],[-0.85,1.1],[-1.02,1.2],[-1.2,1.0],[-1.33,0.9],[-1.5,0.9]];
const iBi6p = [[3.5,3.3],[3.4,4.2],[3.3,5.0],[3.2,5.2],[3.1,5.0],[3.0,4.5],[2.9,3.3],[2.8,2.0],[2.7,1.2],[2.6,0.6],[2.5,0.4],[2.3,0.3],[2.0,0.1],[1.5,0.1],[1.0,0.2],[0.5,0.3],[0,0.5],[-0.5,0.6],[-1.0,0.8],[-1.5,0.9]];
const iV3d = [[3.5,0.1],[3.0,0.2],[2.8,0.3],[2.7,0.5],[2.62,3],[2.58,12.5],[2.55,14],[2.52,6],[2.45,3],[2.35,3.2],[2.27,3.4],[2.18,2.8],[2.1,2.0],[2.0,0.8],[1.96,0.5],[1.8,0.2],[1.3,0.3],[1.0,0.6],[0.9,1.2],[0.8,2.0],[0.7,3.0],[0.6,3.4],[0.5,3.3],[0.4,2.3],[0.3,3.0],[0.2,4.8],[0.13,6.0],[0.05,4.5],[-0.05,3.2],[-0.15,2.6],[-0.3,2.3],[-0.48,2.5],[-0.66,3.0],[-0.84,4.8],[-0.95,6.5],[-1.05,8.8],[-1.12,10.5],[-1.2,11.5],[-1.35,11.6],[-1.5,11.7]];
const iO2p = [[3.5,30],[3.0,20],[2.85,14],[2.77,11.7],[2.7,9],[2.62,6],[2.55,3],[2.48,0.8],[2.4,1.0],[2.33,1.4],[2.2,1.0],[2.08,0.5],[1.96,1.0],[1.85,0.3],[1.5,0.2],[1.2,0.5],[1.1,0.9],[1.02,2.0],[0.93,3.5],[0.85,2.8],[0.75,1.8],[0.68,1.6],[0.6,5.0],[0.55,8.4],[0.5,11.7],[0.45,14],[0,20],[-1.5,200]];

// ---- styles ----
const RED = "#ff1f1f", BLUE = "#3045ff";
const sTotal = {borderColor: "#000", borderWidth: 1.5};
const sBi6s = {borderColor: "#2020c8", borderWidth: 1.3, borderDash: [7, 3]};
const sBi6p = {borderColor: "#1f8f3a", borderWidth: 1.3, borderDash: [3, 2]};
const sV3d = {borderColor: "#ff6a5a", borderWidth: 1.2, borderDash: [1, 1.5]};
const sO2p = {borderColor: "#ff1a1a", borderWidth: 1.3, borderDash: [6, 2, 1.5, 2]};
const sYb4fB = {borderColor: "#2244ff", borderWidth: 1.3, borderDash: [3, 2]};
const sYb4fC = {borderColor: "#2244ff", borderWidth: 1.3, borderDash: [5, 2, 1.5, 2, 1.5, 2]};
const sYb4fD = {borderColor: "#4f7f70", borderWidth: 1.3, borderDash: [6, 2, 1.5, 2]};
const sTm5d = {borderColor: "#3355ff", borderWidth: 1.2, borderDash: [1, 1.5]};

Chart.defaults.font.family = '"Liberation Sans", Arial, sans-serif';
Chart.defaults.color = "#000";
Chart.defaults.elements.point.radius = 0;

// frame box and tick marks drawn from the scales
Chart.register({
  id: "frame",
  afterDatasetsDraw(chart, args, o) {
    const {ctx, chartArea: a} = chart;
    const xs = chart.scales.x, ys = chart.scales.y;
    const px = v => Math.round(v) + 0.5;
    ctx.save();
    ctx.setLineDash([]);
    ctx.strokeStyle = "#000";
    ctx.lineWidth = 1;
    ctx.strokeRect(px(a.left), px(a.top), Math.round(a.right) - Math.round(a.left), Math.round(a.bottom) - Math.round(a.top));
    ctx.beginPath();
    const mark = (spec, fn) => {
      if (!spec) return;
      (spec.major || []).forEach(v => fn(v, 4));
      (spec.minor || []).forEach(v => fn(v, 2.5));
    };
    mark(o.left, (v, l) => { const y = px(ys.getPixelForValue(v)); ctx.moveTo(px(a.left), y); ctx.lineTo(px(a.left) - l, y); });
    mark(o.right, (v, l) => { const y = px(ys.getPixelForValue(v)); ctx.moveTo(px(a.right), y); ctx.lineTo(px(a.right) + l, y); });
    mark(o.bottom, (v, l) => { const x = px(xs.getPixelForValue(v)); ctx.moveTo(x, px(a.bottom)); ctx.lineTo(x, px(a.bottom) + l); });
    ctx.stroke();
    ctx.restore();
  }
});

// boxed legend with line samples, like the original plots
Chart.register({
  id: "boxLegend",
  afterDraw(chart, args, o) {
    if (!o.rows) return;
    const {ctx, chartArea: a} = chart;
    const x0 = Math.round(a.left + o.left) + 0.5, y0 = Math.round(a.top + o.top) + 0.5;
    const h = Math.round(o.rows.length * o.rowH + o.pad * 2);
    ctx.save();
    ctx.fillStyle = "#fff";
    ctx.fillRect(x0, y0, o.w, h);
    ctx.strokeStyle = "#000";
    ctx.lineWidth = 1;
    ctx.setLineDash([]);
    ctx.strokeRect(x0, y0, o.w, h);
    ctx.font = o.font + 'px "Liberation Sans", Arial, sans-serif';
    ctx.textBaseline = "middle";
    o.rows.forEach((name, i) => {
      const ds = chart.data.datasets.find(d => d.label === name);
      const y = y0 + o.pad + (i + 0.5) * o.rowH;
      ctx.beginPath();
      ctx.setLineDash(ds.borderDash || []);
      ctx.strokeStyle = ds.borderColor;
      ctx.lineWidth = ds.borderWidth;
      ctx.moveTo(x0 + 2, y);
      ctx.lineTo(x0 + 2 + o.sample, y);
      ctx.stroke();
      ctx.setLineDash([]);
      ctx.fillStyle = "#000";
      ctx.fillText(name, x0 + 4 + o.sample, y);
    });
    ctx.restore();
  }
});

function makeCanvas(frame, pad) {
  const c = document.createElement("canvas");
  c.width = frame.w + pad.l + pad.r;
  c.height = frame.h + pad.t + pad.b;
  c.style.left = (frame.l - pad.l) + "px";
  c.style.top = (frame.t - pad.t) + "px";
  document.body.appendChild(c);
  return c;
}

function stack(datasets) {
  // first dataset at the bottom, last on top
  datasets.forEach((d, i) => { d.order = datasets.length - i; });
  return datasets;
}

// fixed axis sizes, no extra room for edge labels
const fitX = h => s => { s.height = h; s.paddingLeft = 0; s.paddingRight = 0; };
const fitY = w => s => { s.width = w; s.paddingTop = 0; s.paddingBottom = 0; };

const bandLines = (bands, color, width) => bands.map(b => ({
  data: b.map((e, i) => ({x: kGrid[i], y: e})),
  borderColor: color, borderWidth: width, tension: 0.35
}));
const levelLines = (levels, color, width, dash) => levels.map(p => ({
  data: [{x: 0, y: p[0]}, {x: 1, y: p[1]}],
  borderColor: color, borderWidth: width, borderDash: dash || []
}));
const fillWindow = (w, color) => [
  {data: [{x: 0, y: w[1]}, {x: 1, y: w[1]}], borderColor: "transparent", borderWidth: 1, fill: "+1", backgroundColor: color},
  {data: [{x: 0, y: w[0]}, {x: 1, y: w[0]}], borderColor: "transparent", borderWidth: 1}
];
const dosLine = (pairs, label, style) => Object.assign({
  label: label, data: pairs.map(p => ({x: p[1], y: p[0]})), tension: 0.3
}, style);
const fermi = xmax => ({data: [{x: 0, y: 0}, {x: xmax, y: 0}], borderColor: RED, borderWidth: 1, borderDash: [4, 3]});

function bandChart(frame, datasets, ticks, names, gridColor) {
  const pad = {l: 24, r: 6, t: 4, b: 16};
  return new Chart(makeCanvas(frame, pad), {
    type: "line",
    data: {datasets: stack(datasets)},
    options: {
      responsive: false, animation: false, events: [],
      layout: {padding: {top: pad.t, right: pad.r, bottom: 0, left: 0}},
      plugins: {legend: {display: false}, tooltip: {enabled: false},
        frame: {left: {major: eMajor}, right: {major: eMajor}}},
      scales: {
        x: {type: "linear", min: 0, max: 1,
          afterBuildTicks: s => { s.ticks = ticks.map(v => ({value: v})); },
          afterFit: fitX(pad.b),
          ticks: {callback: (v, i) => names[i], autoSkip: false, maxRotation: 0, padding: 2, font: {size: 10}},
          grid: {color: gridColor, lineWidth: 1, drawTicks: false}, border: {display: false}},
        y: {type: "linear", min: -6.5, max: 8.5,
          afterBuildTicks: s => { s.ticks = eMajor.map(v => ({value: v})); },
          afterFit: fitY(pad.l),
          ticks: {padding: 9, font: {size: 10}},
          grid: {display: false, drawTicks: false}, border: {display: false}}
      }
    }
  });
}

function dosChart(frame, c) {
  const pad = c.inset ? {l: 2, r: 16, t: 4, b: 16} : {l: 2, r: 6, t: 4, b: 16};
  return new Chart(makeCanvas(frame, pad), {
    type: "line",
    data: {datasets: stack(c.datasets)},
    options: {
      responsive: false, animation: false, events: [],
      layout: {padding: {top: pad.t, right: c.inset ? 0 : pad.r, bottom: 0, left: c.inset ? pad.l : 0}},
      plugins: {legend: {display: false}, tooltip: {enabled: false},
        frame: {right: {major: c.yMajor, minor: c.yMinor}, bottom: {major: c.xMajor, minor: c.xMinor}},
        boxLegend: c.legend || {}},
      scales: {
        x: {type: "linear", min: 0, max: c.xmax,
          afterBuildTicks: s => { s.ticks = c.xMajor.map(v => ({value: v})); },
          afterFit: fitX(pad.b),
          ticks: {padding: 6, font: {size: 10}, maxRotation: 0, autoSkip: false},
          grid: {display: false, drawTicks: false}, border: {display: false}},
        y: {type: "linear", min: c.ymin, max: c.ymax, position: c.inset ? "right" : "left",
          afterBuildTicks: s => { s.ticks = c.yMajor.map(v => ({value: v})); },
          afterFit: fitY(c.inset ? pad.r : pad.l),
          ticks: {display: !!c.inset, padding: 5, font: {size: 10}},
          grid: {display: false, drawTicks: false}, border: {display: false}}
      }
    }
  });
}

// ---- (a) BiVO4 ----
bandChart({l: 35, t: 21, w: 136, h: 276},
  [...bandLines(aBands, RED, 1), fermi(1)], kTicks, kNames, "#000");
dosChart({l: 183, t: 21, w: 113, h: 276}, {
  xmax: 17, xMajor: [0, 5, 10, 15], xMinor: [2.5, 7.5, 12.5], ymin: -6.5, ymax: 8.5, yMajor: eMajor, yMinor: eMinor,
  datasets: [fermi(17), dosLine(aBi6s, "Bi-6s", sBi6s), dosLine(aBi6p, "Bi-6p", sBi6p), dosLine(aV3d, "V-3d", sV3d),
    dosLine(aO2p, "O-2p", sO2p), dosLine(aTotal, "Total", sTotal)],
  legend: {rows: ["Total", "Bi-6s", "Bi-6p", "V-3d", "O-2p"], left: 56, top: 3, w: 55, rowH: 11.3, pad: 2.5, sample: 21, font: 9}
});

// ---- (b) YbVO4 ----
bandChart({l: 369, t: 20, w: 135, h: 276},
  [...bandLines(bBands, BLUE, 1.9), ...bandLines(bBlueOnly, BLUE, 1.1), ...bandLines(bBands, RED, 1), fermi(1)],
  kTicks, kNames, "#000");
dosChart({l: 517, t: 20, w: 114, h: 276}, {
  xmax: 37.8, xMajor: [0, 10, 20, 30], xMinor: [5, 15, 25, 35], ymin: -6.5, ymax: 8.5, yMajor: eMajor, yMinor: eMinor,
  datasets: [fermi(37.8), dosLine(bYb4f, "Yb-4f", sYb4fB), dosLine(bV3d, "V-3d", sV3d), dosLine(bO2p, "O-2p", sO2p),
    dosLine(bTotal, "Total", sTotal)],
  legend: {rows: ["Total", "Yb-4f", "V-3d", "O-2p"], left: 51, top: 4, w: 45, rowH: 10.7, pad: 2.5, sample: 21, font: 9}
});

// ---- (c) Yb0.5Bi0.5VO4 ----
bandChart({l: 35, t: 362, w: 136, h: 276},
  [...bandLines(cBands, BLUE, 1.8), ...bandLines(cBlueOnly, BLUE, 1.1), ...bandLines(cBands, RED, 1.1), fermi(1)],
  kTicks, kNames, "#000");
dosChart({l: 183, t: 362, w: 112, h: 276}, {
  xmax: 24.3, xMajor: [0, 10, 20], xMinor: [5, 15], ymin: -6.5, ymax: 8.5, yMajor: eMajor, yMinor: eMinor,
  datasets: [fermi(24.3), dosLine(cYb4f, "Yb-4f", sYb4fC), dosLine(cBi6s, "Bi-6s", sBi6s), dosLine(cBi6p, "Bi-6p", sBi6p),
    dosLine(cV3d, "V-3d", sV3d), dosLine(cO2p, "O-2p", sO2p), dosLine(cTotal, "Total", sTotal)],
  legend: {rows: ["Total", "Yb-4f", "Bi-6s", "Bi-6p", "V-3d", "O-2p"], left: 58, top: 3, w: 53, rowH: 10.8, pad: 2, sample: 21, font: 9}
});

// ---- (d) Tm-doped Yb0.5Bi0.5VO4 ----
bandChart({l: 352, t: 366, w: 133, h: 273}, [
  ...fillWindow(dUpper, "rgba(228,45,75,0.9)"),
  ...fillWindow(dDense[0], RED),
  ...fillWindow(dDense[1], RED),
  ...levelLines(dPaleLines, "#b9bfe6", 1.2),
  ...levelLines(dRedLines, RED, 1.2),
  ...levelLines(dBlueLines, "rgba(60,70,220,0.75)", 1),
  ...levelLines(dWhiteLines, "rgba(255,255,255,0.85)", 1),
  ...levelLines(dFermiBlue.map(e => [e, e]), BLUE, 1.5, [4, 3]),
  ...levelLines(dFermiRed.map(e => [e, e]), RED, 1.5, [4, 3])
], kTicksD, kNamesD, "#1c1c60");
const dosD = dosChart({l: 498, t: 366, w: 112, h: 273}, {
  xmax: 290, xMajor: [0, 100, 200], xMinor: [50, 150, 250], ymin: -6.5, ymax: 8.5, yMajor: eMajor, yMinor: eMinor,
  datasets: [fermi(290), dosLine(dTm5d, "Tm-5d", sTm5d), dosLine(dYb4f, "Yb-4f", sYb4fD), dosLine(dBi6s, "Bi-6s", sBi6s),
    dosLine(dBi6p, "Bi-6p", sBi6p), dosLine(dV3d, "V-3d", sV3d), dosLine(dO2p, "O-2p", sO2p), dosLine(dTotal, "Total", sTotal),
    {data: [{x: 0, y: insetE[0]}, {x: insetBoxDos, y: insetE[0]}, {x: insetBoxDos, y: insetE[1]}, {x: 0, y: insetE[1]}],
      borderColor: "#000", borderWidth: 1}]
});
const inset = dosChart({l: 628, t: 367, w: 110, h: 273}, {
  inset: true, xmax: 11.7, xMajor: [0, 5, 10], xMinor: [2.5, 7.5], ymin: insetE[0], ymax: insetE[1],
  yMajor: [-1, 0, 1, 2, 3], yMinor: [-0.5, 0.5, 1.5, 2.5],
  datasets: [fermi(11.7), dosLine(iTm5d, "Tm-5d", sTm5d), dosLine(iYb4f, "Yb-4f", sYb4fD), dosLine(iBi6s, "Bi-6s", sBi6s),
    dosLine(iBi6p, "Bi-6p", sBi6p), dosLine(iV3d, "V-3d", sV3d), dosLine(iO2p, "O-2p", sO2p), dosLine(iTotal, "Total", sTotal)],
  legend: {rows: ["Total", "Tm-5d", "Yb-4f", "Bi-6s", "Bi-6p", "V-3d", "O-2p"], left: 65, top: 60, w: 45, rowH: 9.6, pad: 1.5, sample: 15, font: 7.5}
});

// arrows from the zoom box to the inset corners
(function () {
  const ns = "http://www.w3.org/2000/svg";
  const svg = document.createElementNS(ns, "svg");
  svg.setAttribute("width", 756);
  svg.setAttribute("height", 668);
  svg.innerHTML = '<defs><marker id="ah" viewBox="0 0 10 10" refX="9" refY="5" markerWidth="7" markerHeight="7" orient="auto">' +
    '<path d="M0,1 L10,5 L0,9 z" fill="#000"/></marker></defs>';
  const dc = dosD.canvas, ic = inset.canvas;
  const sx = dc.offsetLeft + dosD.scales.x.getPixelForValue(insetBoxDos);
  [[insetE[1], inset.chartArea.top], [insetE[0], inset.chartArea.bottom]].forEach(([e, ty]) => {
    const ln = document.createElementNS(ns, "line");
    ln.setAttribute("x1", sx);
    ln.setAttribute("y1", dc.offsetTop + dosD.scales.y.getPixelForValue(e));
    ln.setAttribute("x2", ic.offsetLeft + inset.chartArea.left - 1);
    ln.setAttribute("y2", ic.offsetTop + ty);
    ln.setAttribute("stroke", "#000");
    ln.setAttribute("stroke-width", "1");
    ln.setAttribute("marker-end", "url(#ah)");
    svg.appendChild(ln);
  });
  document.body.appendChild(svg);
})();

// ---- text ----
function txt(html, x, y, size, how) {
  const d = document.createElement("div");
  d.className = "t";
  d.innerHTML = html;
  d.style.left = x + "px";
  d.style.top = y + "px";
  d.style.fontSize = size + "px";
  d.style.transform = how === "c" ? "translate(-50%,-50%)" : how === "v" ? "translate(-50%,-50%) rotate(-90deg)" : "translate(0,-50%)";
  document.body.appendChild(d);
}
const EF = "E<sub>F</sub>";
const yTitle = "E - E<sub>F</sub> /eV";
txt("(a)", 2, 14, 15);
txt("(b)", 327, 14, 15);
txt("(c)", 2, 336, 15);
txt("(d)", 327, 336, 15);
txt("BiVO<sub>4</sub>", 170, 10, 11, "c");
txt("YbVO<sub>4</sub>", 506, 9, 11, "c");
txt("Yb<sub>0.5</sub>Bi<sub>0.5</sub>VO<sub>4</sub>", 172, 351, 11, "c");
txt("Tm-doped Yb<sub>0.5</sub>Bi<sub>0.5</sub>VO<sub>4</sub>", 550, 351, 11, "c");
txt(yTitle, 12, 158, 11, "v");
txt(yTitle, 343, 158, 11, "v");
txt(yTitle, 12, 500, 11, "v");
txt(yTitle, 327, 502, 11, "v");
txt("E<sub>g</sub> = 2.434 eV", 46, 148, 12);
txt("E<sub>g</sub> = 3.086 eV", 383, 132, 12);
txt("E<sub>g</sub> = 2.568 eV", 47, 494, 12);
txt("E<sub>g</sub> = 2.528 eV", 380, 495, 12);
txt(EF, 38, 163, 12);
txt(EF, 373, 164, 12);
txt(EF, 43, 509, 12);
txt(EF, 355, 504, 12);
txt(EF, 282, 163, 12);
txt(EF, 615, 164, 12);
txt(EF, 281, 506, 12);
txt(EF, 595, 511, 12);
txt(EF, 722, 547, 12);
txt("DOS", 244, 320, 11, "c");
txt("DOS", 582, 320, 11, "c");
txt("DOS", 232, 661, 11, "c");
txt("DOS", 598, 663, 11, "c");
</script>
</body>
</html>
